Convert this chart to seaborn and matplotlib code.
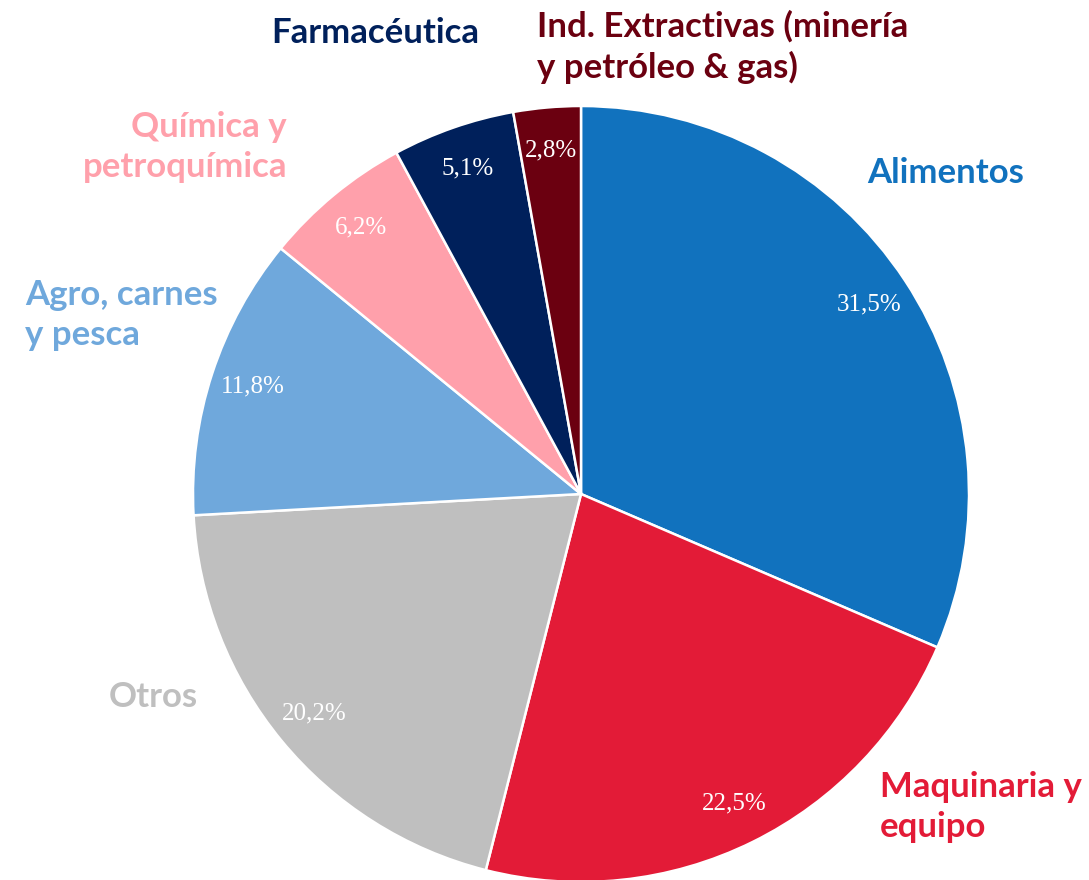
import matplotlib
matplotlib.use("Agg")
import matplotlib.pyplot as plt
import seaborn as sns

# Datos
sectores = ["Alimentos", "Maquinaria y\nequipo", "Otros", "Agro, carnes\ny pesca",
            "Química y\npetroquímica", "Farmacéutica",
            "Ind. Extractivas (minería\ny petróleo & gas)"]
porcentajes = [31.5, 22.5, 20.2, 11.8, 6.2, 5.1, 2.8]
colores = ["#1172BE", "#E31B37", "#BFBFBF", "#6FA8DC", "#FFA0AB", "#00205B", "#6B0010"]

sns.set_theme(style="white")
plt.rcParams['font.family'] = ['Lato', 'DejaVu Sans']

W, H = 1089, 880
fig = plt.figure(figsize=(W / 100, H / 100), dpi=100)
ax = fig.add_axes([0, 0, 1, 1])

# centro y radio del pastel en pixeles
cx, cy, r = 581, 494, 388

wedges, _, pcts = ax.pie(
    porcentajes,
    colors=sns.color_palette(colores),
    startangle=90,
    counterclock=False,
    autopct=lambda p: f"{p:.1f}%".replace(".", ","),
    pctdistance=0.89,
    wedgeprops=dict(edgecolor="white", linewidth=1.8),
    textprops=dict(color="white", fontsize=18, family="Liberation Serif"),
)

ax.set_xlim(-cx / r, (W - cx) / r)
ax.set_ylim((cy - H) / r, cy / r)
ax.set_aspect("equal")
ax.axis("off")

# etiquetas externas (coordenadas en pixeles)
def etiqueta(texto, x, y, color, ha):
    fig.text(x / W, 1 - y / H, texto, color=color, ha=ha, va="center",
             fontsize=25, fontweight="bold", linespacing=1.3)

etiqueta(sectores[0], 946, 173, colores[0], "center")
etiqueta(sectores[1], 880, 807, colores[1], "left")
etiqueta(sectores[2], 153, 697, colores[2], "center")
etiqueta(sectores[3], 25, 315, colores[3], "left")
etiqueta(sectores[4], 287, 147, colores[4], "right")
etiqueta(sectores[5], 375, 33, colores[5], "center")
etiqueta(sectores[6], 537, 47, colores[6], "left")

plt.savefig("out.png", dpi=100)
